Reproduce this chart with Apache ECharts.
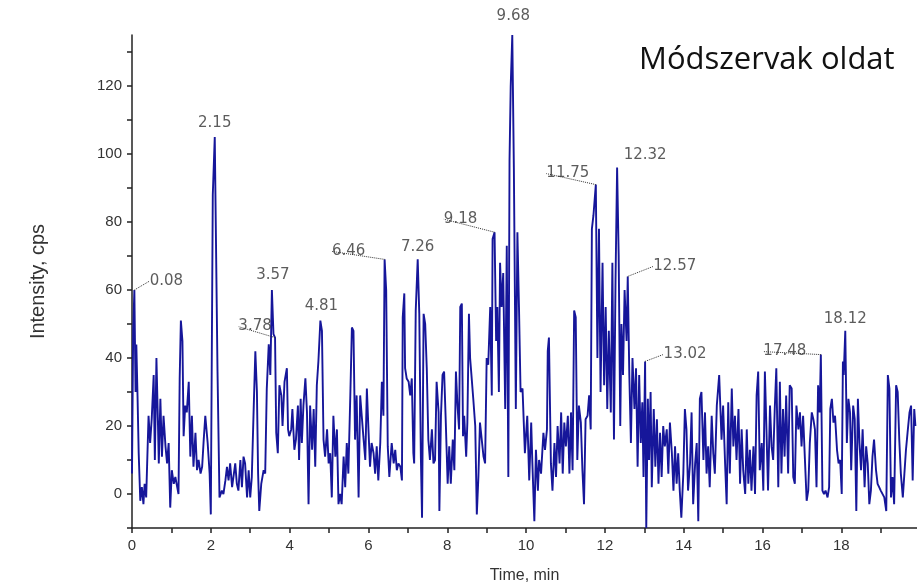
<!DOCTYPE html>
<html>
<head>
<meta charset="utf-8">
<script src="https://cdn.jsdelivr.net/npm/echarts@6/dist/echarts.min.js"></script>
<style>
  html, body { margin: 0; padding: 0; background: #fff; }
  #chart { width: 917px; height: 585px; }
</style>
</head>
<body>
<div id="chart"></div>
<script>
// retention time (min)
var timeMin = [
  0.00,0.03,0.06,0.09,0.11,0.14,0.17,0.21,0.25,0.29,0.32,0.36,0.42,0.46,0.50,0.55,0.58,0.62,0.66,0.68,
  0.72,0.76,0.80,0.85,0.89,0.93,0.97,1.01,1.06,1.10,1.14,1.18,1.21,1.24,1.28,1.31,1.35,1.39,1.44,1.48,
  1.52,1.56,1.61,1.65,1.69,1.74,1.78,1.82,1.86,1.92,1.97,2.00,2.05,2.10,2.17,2.22,2.28,2.32,2.37,2.41,
  2.45,2.49,2.54,2.58,2.62,2.66,2.70,2.75,2.79,2.83,2.87,2.92,2.96,3.00,3.04,3.09,3.13,
  3.17,3.20,3.23,3.28,3.34,3.38,3.42,3.47,3.51,3.55,3.59,3.63,3.66,3.70,3.74,3.79,3.82,3.87,3.93,3.96,
  3.99,4.04,4.07,4.12,4.16,4.21,4.24,4.28,4.31,4.35,4.40,4.44,4.48,4.52,4.57,4.61,4.65,4.69,4.73,4.78,
  4.82,4.86,4.90,4.95,4.99,5.03,5.07,5.11,5.16,5.20,5.24,5.28,5.32,5.37,5.41,5.45,5.49,5.54,5.58,5.62,
  5.66,5.70,5.75,5.79,5.83,5.87,5.92,5.96,6.00,6.04,6.08,6.13,6.17,6.21,6.25,6.30,6.34,6.38,6.41,6.45,
  6.49,6.53,6.59,6.64,6.68,
  6.72,6.76,6.81,6.85,6.87,6.91,6.93,6.97,7.02,7.06,7.10,7.14,7.16,7.20,7.25,7.29,7.33,7.36,7.40,7.44,
  7.48,7.52,7.56,7.61,7.65,7.69,7.73,7.78,7.80,7.84,7.88,7.92,7.96,8.01,8.05,8.09,8.14,8.18,8.22,8.26,
  8.30,8.33,8.37,8.40,8.43,8.48,8.51,8.55,8.58,8.62,8.66,8.71,8.75,8.79,8.83,8.87,8.92,8.96,9.00,9.04,
  9.09,9.13,9.15,9.20,9.24,9.27,9.31,9.34,9.38,9.42,9.47,9.51,9.55,9.58,9.61,9.65,9.69,9.74,9.78,9.82,
  9.86,9.91,9.97,10.03,10.08,
  10.13,10.16,10.21,10.25,10.30,10.33,10.38,10.44,10.48,10.53,10.55,10.58,10.63,10.67,10.72,10.76,10.80,10.85,10.89,10.93,
  10.97,11.01,11.06,11.10,11.14,11.18,11.22,11.26,11.30,11.34,11.39,11.43,11.47,11.51,11.56,11.60,11.64,11.67,11.71,11.77,
  11.81,11.85,11.89,11.94,11.98,12.02,12.06,12.10,12.15,12.19,12.23,12.27,12.31,12.35,12.39,12.42,12.46,12.50,12.55,12.58,
  12.62,12.66,12.70,12.75,12.79,12.83,12.87,12.91,12.95,12.98,13.02,13.05,13.09,13.12,13.16,13.19,13.24,13.28,13.32,13.36,
  13.40,13.44,13.48,
  13.52,13.57,13.61,13.65,13.70,13.74,13.78,13.82,13.86,13.90,13.94,13.99,14.03,14.07,14.11,14.16,14.20,14.24,14.29,14.33,
  14.37,14.41,14.45,14.50,14.54,14.58,14.62,14.66,14.71,14.75,14.79,14.84,
  14.90,14.96,15.00,15.05,15.09,15.13,15.17,15.22,15.26,15.30,15.34,15.39,15.43,15.47,15.51,15.56,15.60,15.64,15.68,15.72,
  15.77,15.81,15.85,15.89,15.93,15.98,16.02,16.06,16.10,16.14,16.19,16.23,16.27,16.31,16.35,16.40,16.44,16.48,16.52,16.56,
  16.60,16.65,
  16.69,16.74,16.78,16.82,16.86,16.91,16.95,16.99,17.03,17.08,17.12,17.16,17.20,17.25,17.29,17.33,17.37,17.41,17.45,17.48,
  17.52,17.56,17.60,17.65,17.69,17.72,17.76,17.80,17.84,17.89,17.93,17.97,18.01,18.04,18.06,18.10,18.14,18.18,18.22,18.25,
  18.30,18.34,18.38,18.42,18.46,18.50,18.54,18.59,18.63,18.67,18.71,18.75,18.79,18.83,18.88,18.92,18.96,19.00,19.05,19.09,
  19.14,19.18,19.22,19.26,19.30,19.34,19.39,19.43,19.47,19.51,19.56,19.60,19.64,19.68,19.73,19.77,19.81,19.85,19.88
];

// intensity (cps)
var intensity = [
  6,48,60,30,44,29,12,-2,2,-3,3,-1,23,15,22,35,10,40,20,9,
  28,11,23,14,9,15,-4,7,3,5,5,0,34,51,45,17,26,24,33,11,
  23,8,18,7,10,6,8,16,23,15,6,-6,88,105,36,-1,1,0,4,8,
  4,9,2,2,9,3,1,10,2,11,9,-1,7,-1,5,26,42,
  30,6,-5,3,7,6,31,44,35,60,47,46,18,12,32,29,20,33,37,19,
  17,19,25,13,16,26,10,28,15,26,34,24,-3,26,13,25,8,32,39,51,
  48,16,11,19,9,12,-1,23,11,19,-3,0,-3,11,2,15,6,29,49,48,
  16,29,-1,29,23,17,10,31,19,8,15,12,6,14,4,15,33,23,69,60,
  14,5,15,9,13,
  7,9,8,4,52,59,37,34,33,29,34,12,9,54,69,53,11,-7,53,50,
  37,16,10,19,9,10,33,24,-5,23,35,36,22,3,14,3,16,7,36,26,
  19,55,56,17,23,11,21,53,40,34,28,20,-6,5,21,21,11,9,40,38,
  55,29,75,77,45,55,30,68,55,65,25,73,5,98,120,135,96,25,77,55,
  30,31,12,23,4,
  21,9,-8,13,1,10,6,18,13,19,42,46,9,1,15,5,20,9,24,6,
  21,14,23,6,24,7,54,52,10,26,21,7,-3,22,23,29,19,78,82,91,
  40,78,30,68,32,55,25,48,24,68,16,63,96,70,20,50,35,60,45,64,
  35,15,40,25,37,8,35,15,27,5,39,-10,28,10,30,2,25,8,22,3,
  18,5,20,
  14,19,6,21,12,1,14,3,12,1,-7,6,25,19,1,9,24,-3,9,15,
  -8,28,30,10,24,6,14,2,23,12,6,26,
  35,16,26,9,-3,27,6,31,14,23,10,25,3,19,7,0,19,3,13,1,
  14,0,29,36,7,15,1,36,19,1,26,14,10,25,37,2,33,6,25,11,
  29,6,
  32,31,5,3,26,19,24,14,23,9,-2,1,15,24,22,19,2,32,24,41,
  1,0,1,-1,2,25,28,21,23,13,9,10,0,39,35,48,15,28,24,7,
  26,22,-5,28,15,7,19,2,14,9,-3,1,11,16,7,3,2,1,1,-1,
  -5,35,31,-1,5,-3,32,30,16,6,-1,6,13,18,24,26,4,25,20
];

// labelled peaks
var peakTimes = [0.06, 2.10, 3.55, 3.63, 4.78, 6.41, 7.25, 9.20, 9.65, 11.77, 12.31, 12.58, 13.02, 17.48, 18.10];
var peakLabels = ['0.08', '2.15', '3.57', '3.78', '4.81', '6.46', '7.26', '9.18', '9.68', '11.75', '12.32', '12.57', '13.02', '17.48', '18.12'];

// label placement (px) and whether a leader is drawn
var labelShift = {
  '0.08': [32, -9, true], '2.15': [0, -14, false], '3.57': [1, -15, false], '3.78': [-20, -11, true],
  '4.81': [1, -14, false], '6.46': [-36, -8, true], '7.26': [0, -12, false], '9.18': [-34, -13, true],
  '9.68': [1, -19, false], '11.75': [-28, -11, true], '12.32': [28, -12, false], '12.57': [47, -10, true],
  '13.02': [40, -7, true], '17.48': [-36, -3, true], '18.12': [0, -12, false]
};

var series = [];
for (var i = 0; i < timeMin.length; i++) {
  series.push([timeMin[i], intensity[i]]);
}

var peaks = [];
for (var p = 0; p < peakTimes.length; p++) {
  var idx = timeMin.indexOf(peakTimes[p]);
  peaks.push({
    name: peakLabels[p],
    value: [peakTimes[p], intensity[idx]],
    labelLine: { show: labelShift[peakLabels[p]][2] }
  });
}

var axisFont = 'Liberation Sans, Arial, sans-serif';

var myChart = echarts.init(document.getElementById('chart'), null, { renderer: 'canvas' });
var option = {
  animation: false,
  backgroundColor: '#fff',
  title: {
    text: 'Módszervak oldat',
    left: 634,
    top: 40,
    textStyle: { fontFamily: 'Open Sans, Noto Sans, sans-serif', fontSize: 31, fontWeight: 'normal', color: '#111' }
  },
  grid: { left: 132, right: 0, top: 35, bottom: 57, containLabel: false, outerBoundsMode: 'none' },
  xAxis: {
    type: 'value',
    min: 0,
    max: 19.92,
    interval: 1,
    name: 'Time, min',
    nameLocation: 'middle',
    nameGap: 40,
    nameTextStyle: { fontFamily: axisFont, fontSize: 16, color: '#333' },
    axisLine: { onZero: false, lineStyle: { color: '#222', width: 1.5 } },
    axisTick: { inside: false, length: 5, lineStyle: { color: '#222', width: 1.5 } },
    axisLabel: {
      margin: 10,
      fontFamily: axisFont, fontSize: 15, color: '#333',
      showMaxLabel: false,
      formatter: function (v) { return (Math.round(v) % 2 === 0) ? String(Math.round(v)) : ''; }
    },
    splitLine: { show: false }
  },
  yAxis: {
    type: 'value',
    min: -10,
    max: 135,
    interval: 10,
    name: 'Intensity, cps',
    nameLocation: 'middle',
    nameGap: 84,
    nameTextStyle: { fontFamily: axisFont, fontSize: 20, color: '#333' },
    axisLine: { show: true, lineStyle: { color: '#222', width: 1.5 } },
    axisTick: { show: true, length: 5, lineStyle: { color: '#222', width: 1.5 } },
    axisLabel: {
      margin: 10,
      fontFamily: axisFont, fontSize: 15, color: '#333',
      showMaxLabel: false,
      formatter: function (v) { return (v >= 0 && v % 20 === 0) ? String(v) : ''; }
    },
    splitLine: { show: false }
  },
  series: [{
    type: 'line',
    data: series,
    showSymbol: false,
    symbol: 'none',
    lineStyle: { color: '#16169a', width: 1.9 },
    z: 2
  }, {
    type: 'scatter',
    data: peaks,
    symbolSize: 0,
    silent: true,
    z: 3,
    label: {
      show: true,
      position: 'inside',
      formatter: function (p) { return p.name; },
      fontFamily: 'DejaVu Sans, sans-serif',
      fontSize: 15,
      color: '#333'
    },
    labelLayout: function (params) {
      var s = labelShift[peakLabels[params.dataIndex]];
      return { dx: s[0], dy: s[1] };
    },
    labelLine: {
      show: false,
      lineStyle: { color: '#333', width: 1, type: 'dotted' }
    }
  }]
};
myChart.setOption(option);
</script>
</body>
</html>
